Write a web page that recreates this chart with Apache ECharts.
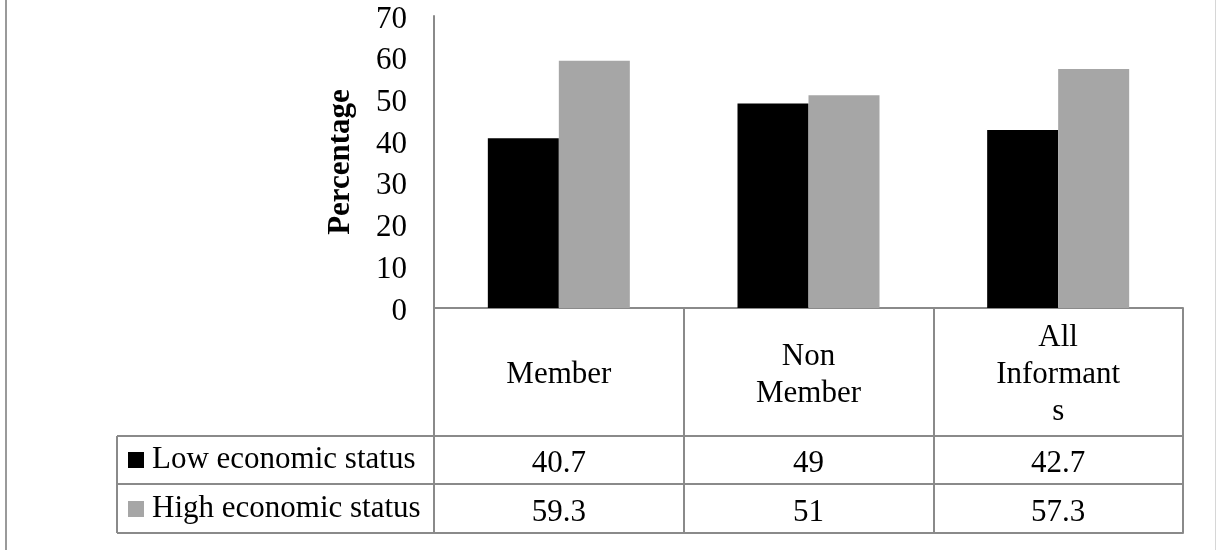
<!DOCTYPE html>
<html>
<head>
<meta charset="utf-8">
<script src="https://cdn.jsdelivr.net/npm/echarts@6/dist/echarts.min.js"></script>
<style>
html,body{margin:0;padding:0;background:#fff;}
#chart{width:1217px;height:550px;}
</style>
</head>
<body>
<div id="chart"></div>
<script>
// ---- data ----
const categories = ['Member', 'Non\nMember', 'All\nInformant\ns'];
const seriesNames = ['Low economic status', 'High economic status'];
const lowValues = [40.7, 49, 42.7];
const highValues = [59.3, 51, 57.3];
const yTicks = [0, 10, 20, 30, 40, 50, 60, 70];

// ---- layout / style ----
const W = 1217, H = 550;
const gridLeft = 434, gridRight = 34, gridTop = 16, gridBottom = 242;
const headerH = 128, row1H = 48, row2H = 49;
const tableLeft = 117;
const FONT = "'Liberation Serif','Times New Roman',serif";
const FS = 31;
const lineCol = '#8a8a8a';
const baseY = H - gridBottom;

const chart = echarts.init(document.getElementById('chart'), null, {renderer: 'canvas'});

function tableAxis(offset, tickLen, labelFn, showLabel) {
  return {
    type: 'category',
    position: 'bottom',
    offset: offset,
    data: categories,
    boundaryGap: true,
    axisLine: {show: true, lineStyle: {color: lineCol, width: 2}},
    axisTick: {show: tickLen > 0, length: tickLen, interval: 0, lineStyle: {color: lineCol, width: 2}},
    axisLabel: {
      show: showLabel,
      interval: 0,
      margin: tickLen / 2 + 4,
      verticalAlign: 'middle',
      fontFamily: FONT,
      fontSize: FS,
      color: '#000',
      formatter: labelFn
    },
    splitLine: {show: false}
  };
}

const option = {
  animation: false,
  backgroundColor: '#fff',
  grid: {left: gridLeft, right: gridRight, top: gridTop, bottom: gridBottom, containLabel: false},
  legend: {
    orient: 'vertical',
    left: tableLeft + 11,
    top: baseY + headerH + 8,
    padding: 0,
    itemGap: 17,
    itemWidth: 16,
    itemHeight: 16,
    icon: 'rect',
    selectedMode: false,
    data: seriesNames,
    formatter: function (name) { return '{t|' + name + '}'; },
    textStyle: {
      fontFamily: FONT, fontSize: FS, color: '#000', lineHeight: 32,
      rich: {t: {fontFamily: FONT, fontSize: FS, color: '#000', lineHeight: 32, padding: [0, 0, 0, 3]}}
    }
  },
  xAxis: [
    {
      type: 'category',
      data: categories,
      boundaryGap: true,
      axisLine: {show: true, lineStyle: {color: lineCol, width: 2}},
      axisTick: {show: true, length: headerH, interval: 0, lineStyle: {color: lineCol, width: 2}},
      axisLabel: {
        interval: 0,
        margin: headerH / 2 + 3,
        verticalAlign: 'middle',
        align: 'center',
        fontFamily: FONT,
        fontSize: FS,
        lineHeight: 37,
        color: '#000'
      },
      splitLine: {show: false}
    },
    tableAxis(headerH, row1H, function (v, i) { return String(lowValues[i]); }, true),
    tableAxis(headerH + row1H, row2H, function (v, i) { return String(highValues[i]); }, true),
    tableAxis(headerH + row1H + row2H, 0, function () { return ''; }, false)
  ],
  yAxis: {
    type: 'value',
    min: yTicks[0],
    max: yTicks[yTicks.length - 1],
    interval: 10,
    name: 'Percentage',
    nameLocation: 'middle',
    nameRotate: 90,
    nameGap: 78,
    nameTextStyle: {fontFamily: FONT, fontSize: FS, fontWeight: 'bold', color: '#000'},
    axisLine: {show: true, lineStyle: {color: lineCol, width: 2}},
    axisTick: {show: false},
    splitLine: {show: false},
    axisLabel: {
      margin: 27,
      formatter: function (v) { return '{n|' + v + '}'; },
      rich: {n: {fontFamily: FONT, fontSize: FS, color: '#000', padding: [7, 0, 0, 0]}}
    }
  },
  series: [
    {
      name: seriesNames[0],
      type: 'bar',
      xAxisIndex: 0,
      data: lowValues,
      barWidth: 71,
      barGap: '0%',
      itemStyle: {color: '#000000'}
    },
    {
      name: seriesNames[1],
      type: 'bar',
      xAxisIndex: 0,
      data: highValues,
      barWidth: 71,
      barGap: '0%',
      itemStyle: {color: '#a6a6a6'}
    }
  ],
  graphic: [
    // outer frame edges
    {type: 'rect', shape: {x: 5, y: 0, width: 2, height: H}, style: {fill: '#9a9a9a'}, silent: true},
    {type: 'rect', shape: {x: 1215, y: 0, width: 1, height: H}, style: {fill: '#d6d6d6'}, silent: true},
    // row-header column of the data table
    {type: 'line', shape: {x1: tableLeft, y1: baseY + headerH, x2: gridLeft, y2: baseY + headerH}, style: {stroke: lineCol, lineWidth: 2}, silent: true},
    {type: 'line', shape: {x1: tableLeft, y1: baseY + headerH + row1H, x2: gridLeft, y2: baseY + headerH + row1H}, style: {stroke: lineCol, lineWidth: 2}, silent: true},
    {type: 'line', shape: {x1: tableLeft, y1: baseY + headerH + row1H + row2H, x2: gridLeft, y2: baseY + headerH + row1H + row2H}, style: {stroke: lineCol, lineWidth: 2}, silent: true},
    {type: 'line', shape: {x1: tableLeft, y1: baseY + headerH, x2: tableLeft, y2: baseY + headerH + row1H + row2H}, style: {stroke: lineCol, lineWidth: 2}, silent: true}
  ]
};
chart.setOption(option);
</script>
</body>
</html>
